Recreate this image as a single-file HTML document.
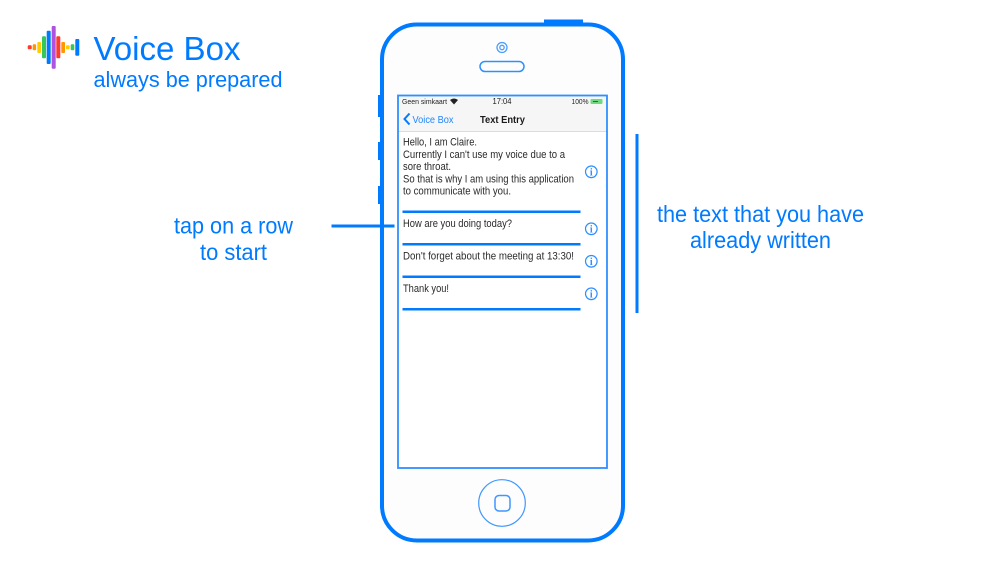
<!DOCTYPE html>
<html><head><meta charset="utf-8"><style>
html,body{margin:0;padding:0;background:#fff}
svg{display:block}
text{font-family:"Liberation Sans",sans-serif}
</style></head><body>
<svg width="1000" height="563" viewBox="0 0 1000 563" xmlns="http://www.w3.org/2000/svg">
<rect width="1000" height="563" fill="#fff"/>
<!-- logo -->
<g>
<rect x="27.700" y="45.300" width="4" height="4" rx="1" fill="#ff3b30"/>
<rect x="32.700" y="44.300" width="3.400" height="6" rx="1" fill="#ff9500"/>
<rect x="37.300" y="42" width="3.700" height="11" rx="1" fill="#ffcc00"/>
<rect x="42" y="36.300" width="4" height="22" rx="1" fill="#34c759"/>
<rect x="46.700" y="30.700" width="4" height="33.300" rx="1" fill="#007aff"/>
<rect x="51.700" y="26" width="4" height="42.700" rx="1" fill="#af52de"/>
<rect x="56.300" y="36.300" width="4" height="22" rx="1" fill="#ff3b30"/>
<rect x="61.300" y="42" width="3.700" height="11" rx="1" fill="#ff9500"/>
<rect x="66" y="45.300" width="3.700" height="4" rx="1" fill="#ffcc00"/>
<rect x="70.700" y="44.300" width="3.600" height="6" rx="1" fill="#34c759"/>
<rect x="75.300" y="39" width="4" height="16.700" rx="1" fill="#007aff"/>
</g>
<text x="93.500" y="60" font-size="33" fill="#007aff" textLength="147" lengthAdjust="spacingAndGlyphs">Voice Box</text>
<text x="93.500" y="87" font-size="22.500" fill="#007aff" textLength="189" lengthAdjust="spacingAndGlyphs">always be prepared</text>
<!-- phone -->
<rect x="544" y="19.500" width="39" height="6" fill="#007aff"/>
<rect x="378" y="95" width="4" height="22" fill="#007aff"/>
<rect x="378" y="142" width="4" height="18" fill="#007aff"/>
<rect x="378" y="186" width="4" height="18" fill="#007aff"/>
<rect x="382" y="24.500" width="241" height="516" rx="35" fill="#fdfdfe" stroke="#007aff" stroke-width="4"/>
<circle cx="502" cy="47.500" r="5" fill="none" stroke="#4a9eff" stroke-width="1.300"/>
<circle cx="502" cy="47.500" r="2.200" fill="none" stroke="#4a9eff" stroke-width="1.300"/>
<rect x="480" y="61.500" width="44" height="10" rx="5" fill="none" stroke="#2f8fff" stroke-width="1.500"/>
<circle cx="502" cy="503" r="23.300" fill="none" stroke="#3f97ff" stroke-width="1.200"/>
<rect x="495" y="495.500" width="15" height="15.500" rx="4" fill="none" stroke="#3f97ff" stroke-width="1.500"/>
<!-- screen -->
<rect x="398" y="96" width="209" height="372" fill="#fff"/>
<rect x="398" y="96" width="209" height="35.500" fill="#f6f6f6"/>
<line x1="398" y1="131.500" x2="607" y2="131.500" stroke="#dcdcdc" stroke-width="1"/>
<rect x="398" y="95.500" width="209" height="372.500" fill="none" stroke="#2f8fff" stroke-width="1.800"/>
<text x="402" y="104" font-size="7.300" fill="#222" textLength="45" lengthAdjust="spacingAndGlyphs">Geen simkaart</text>
<path d="M450 100 Q454 97 458 100 L454 104.500Z" fill="#222"/>
<text x="492.500" y="104" font-size="7.800" fill="#222" textLength="19" lengthAdjust="spacingAndGlyphs">17:04</text>
<text x="571.500" y="104" font-size="7.300" fill="#222" textLength="17" lengthAdjust="spacingAndGlyphs">100%</text>
<rect x="590.500" y="99" width="12" height="5" rx="1" fill="#6fd97f"/>
<path d="M593 101.500h5" stroke="#2a6b35" stroke-width="1"/>
<path d="M409.500 113.500 L404.500 119 L409.500 124.500" fill="none" stroke="#007aff" stroke-width="2"/>
<text x="412.500" y="122.800" font-size="10.500" fill="#1f86ff" textLength="41" lengthAdjust="spacingAndGlyphs">Voice Box</text>
<text x="480" y="122.800" font-size="10.500" font-weight="bold" fill="#1a1a1a" textLength="45" lengthAdjust="spacingAndGlyphs">Text Entry</text>
<g font-size="10.800" fill="#2a2a2a">
<text x="403" y="145.300" textLength="74" lengthAdjust="spacingAndGlyphs">Hello, I am Claire.</text>
<text x="403" y="157.800" textLength="162" lengthAdjust="spacingAndGlyphs">Currently I can't use my voice due to a</text>
<text x="403" y="169.800" textLength="48" lengthAdjust="spacingAndGlyphs">sore throat.</text>
<text x="403" y="182.300" textLength="171" lengthAdjust="spacingAndGlyphs">So that is why I am using this application</text>
<text x="403" y="194.300" textLength="108" lengthAdjust="spacingAndGlyphs">to communicate with you.</text>
<text x="403" y="226.800" textLength="109" lengthAdjust="spacingAndGlyphs">How are you doing today?</text>
<text x="403" y="259.300" textLength="171" lengthAdjust="spacingAndGlyphs">Don't forget about the meeting at 13:30!</text>
<text x="403" y="291.800" textLength="46" lengthAdjust="spacingAndGlyphs">Thank you!</text>
</g>
<g fill="#007aff">
<rect x="402.500" y="210.500" width="178" height="2.500"/>
<rect x="402.500" y="243" width="178" height="2.500"/>
<rect x="402.500" y="275.500" width="178" height="2.500"/>
<rect x="402.500" y="308" width="178" height="2.500"/>
</g>
<g fill="none" stroke="#2f8fff" stroke-width="1.200">
<circle cx="591.300" cy="171.800" r="5.800"/>
<circle cx="591.300" cy="228.800" r="5.800"/>
<circle cx="591.300" cy="261.300" r="5.800"/>
<circle cx="591.300" cy="293.800" r="5.800"/>
</g>
<g font-size="10" font-weight="bold" fill="#2f8fff" text-anchor="middle">
<text x="591.300" y="175.300" style="font-family:'Liberation Serif',serif">i</text>
<text x="591.300" y="232.300" style="font-family:'Liberation Serif',serif">i</text>
<text x="591.300" y="264.800" style="font-family:'Liberation Serif',serif">i</text>
<text x="591.300" y="297.300" style="font-family:'Liberation Serif',serif">i</text>
</g>
<!-- callouts -->
<rect x="331.500" y="224.500" width="63" height="3" fill="#007aff"/>
<rect x="635.500" y="134" width="3" height="179" fill="#007aff"/>
<g font-size="23" fill="#007aff">
<text x="174" y="233.500" textLength="119" lengthAdjust="spacingAndGlyphs">tap on a row</text>
<text x="200" y="260" textLength="67" lengthAdjust="spacingAndGlyphs">to start</text>
<text x="657" y="222" textLength="207" lengthAdjust="spacingAndGlyphs">the text that you have</text>
<text x="690" y="248" textLength="141" lengthAdjust="spacingAndGlyphs">already written</text>
</g>
</svg>
</body></html>
